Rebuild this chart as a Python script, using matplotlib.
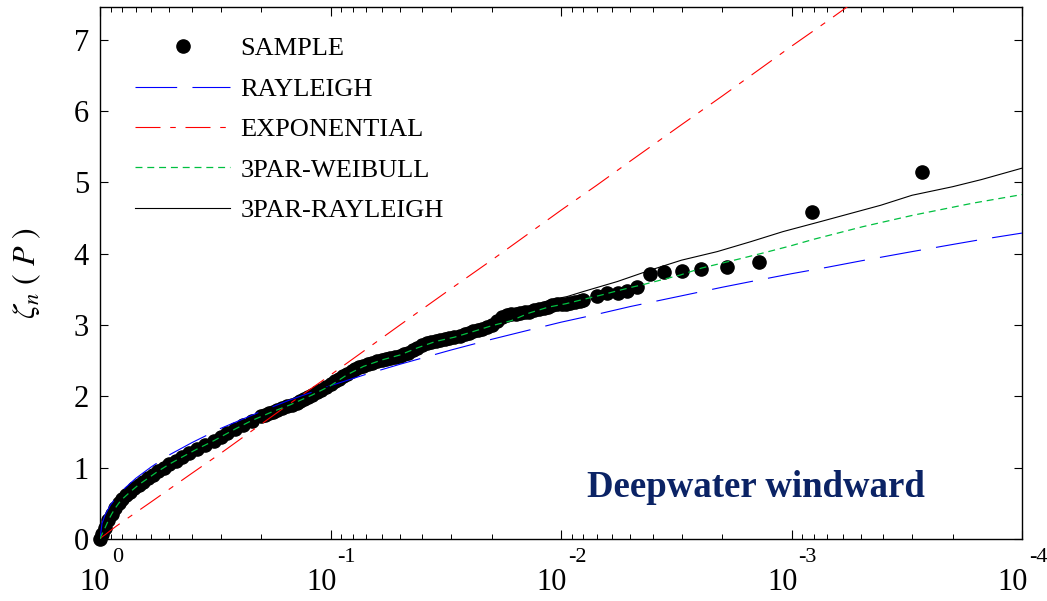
import matplotlib
matplotlib.use("Agg")
import matplotlib.pyplot as plt
from matplotlib.transforms import blended_transform_factory, ScaledTranslation

plt.rcParams['font.family'] = ['Liberation Serif', 'DejaVu Serif']
plt.rcParams['mathtext.fontset'] = 'stix'
plt.rcParams['lines.scale_dashes'] = False

# ---------------- data ----------------
sample_P = [1.0, 0.98, 0.95, 0.92, 0.89, 0.86, 0.83, 0.80, 0.77, 0.74,
            0.71, 0.68, 0.65, 0.62, 0.59, 0.56, 0.53, 0.50, 0.47, 0.44,
            0.41, 0.38, 0.35, 0.32, 0.30, 0.28, 0.26, 0.24, 0.22, 0.20,
            0.192, 0.185, 0.177, 0.17, 0.162, 0.155, 0.147, 0.14, 0.135, 0.13,
            0.125, 0.12, 0.115, 0.11, 0.105, 0.10, 0.096, 0.092, 0.088, 0.085,
            0.081, 0.078, 0.075, 0.072, 0.069, 0.066, 0.063, 0.060, 0.0575, 0.055,
            0.0525, 0.050, 0.048, 0.046, 0.044, 0.042, 0.040, 0.038, 0.0365, 0.035,
            0.0335, 0.032, 0.0305, 0.029, 0.0275, 0.026, 0.025, 0.024, 0.023, 0.022,
            0.021, 0.020, 0.019, 0.018, 0.0172, 0.0165, 0.0157, 0.015, 0.0143, 0.0137,
            0.0131, 0.0125, 0.0119, 0.0114, 0.0109, 0.0104, 0.0099, 0.0095, 0.0091, 0.0087,
            0.0083, 0.0080, 0.0070, 0.0063, 0.00568, 0.00519, 0.00470, 0.00411, 0.00356, 0.00299,
            0.00248, 0.00191, 0.00138, 0.000812, 0.000272]
sample_val = [0.00, 0.07, 0.16, 0.26, 0.35, 0.43, 0.50, 0.56, 0.61, 0.66,
              0.71, 0.76, 0.80, 0.85, 0.90, 0.95, 1.00, 1.05, 1.10, 1.15,
              1.20, 1.26, 1.32, 1.38, 1.43, 1.48, 1.54, 1.60, 1.66, 1.72,
              1.74, 1.76, 1.785, 1.81, 1.835, 1.86, 1.885, 1.91, 1.94, 1.97,
              1.995, 2.02, 2.055, 2.09, 2.13, 2.17, 2.21, 2.25, 2.285, 2.32,
              2.35, 2.38, 2.405, 2.43, 2.45, 2.47, 2.49, 2.51, 2.525, 2.54,
              2.555, 2.57, 2.59, 2.61, 2.645, 2.68, 2.715, 2.75, 2.765, 2.78,
              2.795, 2.81, 2.82, 2.83, 2.85, 2.87, 2.89, 2.91, 2.93, 2.95,
              2.975, 3.00, 3.06, 3.12, 3.135, 3.15, 3.16, 3.17, 3.18, 3.19,
              3.205, 3.22, 3.24, 3.26, 3.275, 3.29, 3.295, 3.30, 3.31, 3.32,
              3.335, 3.35, 3.41, 3.45, 3.45, 3.48, 3.54, 3.71, 3.75, 3.76,
              3.78, 3.81, 3.88, 4.58, 5.14]

model_P = [1.0, 0.98, 0.95, 0.9, 0.85, 0.8, 0.7, 0.6, 0.5, 0.4, 0.3, 0.2, 0.15, 0.1,
           0.07, 0.05, 0.03, 0.02, 0.015, 0.01, 0.007, 0.005, 0.003, 0.002, 0.0015,
           0.001, 7e-4, 5e-4, 3e-4, 2e-4, 1.5e-4, 1e-4]
rayleigh_val = [0.00, 0.22, 0.34, 0.48, 0.58, 0.68, 0.85, 1.01, 1.18, 1.35, 1.55, 1.79,
                1.95, 2.15, 2.31, 2.45, 2.65, 2.80, 2.90, 3.04, 3.15, 3.26, 3.41,
                3.53, 3.61, 3.72, 3.81, 3.90, 4.03, 4.13, 4.20, 4.29]
exponential_val = [0.00, 0.03, 0.06, 0.12, 0.18, 0.24, 0.37, 0.52, 0.70, 0.92, 1.20,
                   1.61, 1.90, 2.30, 2.66, 3.00, 3.51, 3.91, 4.20, 4.61, 4.96, 5.30,
                   5.81, 6.21, 6.50, 6.91, 7.26, 7.60, 8.11, 8.52, 8.80, 9.21]

weibull3_P = [1.0, 0.98, 0.95, 0.92, 0.89, 0.86, 0.83, 0.80, 0.74, 0.68, 0.62, 0.56,
              0.50, 0.44, 0.38, 0.32, 0.26, 0.22, 0.18, 0.15, 0.12, 0.10, 0.085, 0.072,
              0.060, 0.050, 0.042, 0.035, 0.029, 0.024, 0.020, 0.0165, 0.0137, 0.0114,
              0.0095, 0.0080, 0.0067, 0.0057, 0.0048, 0.00449, 0.00305, 0.00245,
              0.00167, 0.00133, 0.00101, 8.07e-4, 4.9e-4, 2.97e-4, 1.63e-4, 1e-4]
weibull3_val = [0.00, 0.07, 0.16, 0.26, 0.35, 0.43, 0.50, 0.56, 0.66, 0.76, 0.85, 0.95,
                1.05, 1.15, 1.26, 1.38, 1.54, 1.66, 1.78, 1.88, 2.02, 2.15, 2.30, 2.42,
                2.51, 2.58, 2.68, 2.77, 2.83, 2.91, 2.99, 3.06, 3.17, 3.25,
                3.30, 3.36, 3.42, 3.48, 3.54, 3.56, 3.70, 3.80,
                3.93, 4.01, 4.11, 4.20, 4.38, 4.54, 4.71, 4.83]

rayleigh3_P = [1.0, 0.98, 0.95, 0.92, 0.89, 0.86, 0.83, 0.80, 0.74, 0.68, 0.62, 0.56,
               0.50, 0.44, 0.38, 0.32, 0.26, 0.22, 0.18, 0.15, 0.12, 0.10, 0.085, 0.072,
               0.060, 0.050, 0.042, 0.035, 0.029, 0.024, 0.020, 0.0165, 0.0137, 0.0112,
               0.0094, 0.0080, 0.0057, 0.0041, 0.0030, 0.0021, 0.0015, 0.00109,
               7.5e-4, 4.1e-4, 3.0e-4, 2.0e-4, 1.5e-4, 1e-4]
rayleigh3_val = [0.00, 0.07, 0.16, 0.26, 0.35, 0.43, 0.50, 0.56, 0.66, 0.76, 0.85, 0.95,
                 1.05, 1.15, 1.26, 1.38, 1.54, 1.66, 1.78, 1.88, 2.02, 2.15, 2.30, 2.42,
                 2.51, 2.58, 2.68, 2.77, 2.83, 2.91, 3.00, 3.10, 3.22, 3.35,
                 3.40, 3.47, 3.61, 3.77, 3.91, 4.03, 4.17, 4.31,
                 4.45, 4.68, 4.82, 4.94, 5.04, 5.20]

labels = ['SAMPLE', 'RAYLEIGH', 'EXPONENTIAL', '3PAR-WEIBULL', '3PAR-RAYLEIGH']
decades = [1.0, 1e-1, 1e-2, 1e-3, 1e-4]
decade_exp = ['0', '-1', '-2', '-3', '-4']
y_ticks = [0, 1, 2, 3, 4, 5, 6, 7]
annotation = 'Deepwater windward'

# ---------------- figure ----------------
fig = plt.figure(figsize=(10.47, 6.01), dpi=100)
ax = fig.add_axes([100 / 1047, 1 - 539 / 601, 922 / 1047, 532 / 601])

ax.plot(sample_P, sample_val, 'o', color='black', ms=9.5, mec='black',
        linestyle='none', clip_on=False, zorder=2, label=labels[0])
ax.plot(model_P, rayleigh_val, color='#0000ff', lw=0.8,
        linestyle=(0, (30, 11)), zorder=3, label=labels[1])
ax.plot(model_P, exponential_val, color='#ff0000', lw=0.8,
        linestyle=(0, (18, 7, 4, 7)), zorder=3, label=labels[2])
ax.plot(weibull3_P, weibull3_val, color='#00c040', lw=0.9,
        linestyle=(0, (5, 3.5)), zorder=4, label=labels[3])
ax.plot(rayleigh3_P, rayleigh3_val, color='black', lw=0.8,
        linestyle='-', zorder=3, label=labels[4])

ax.set_xscale('log')
ax.set_xlim(1.0, 1e-4)
ax.set_ylim(0, 7.46)
ax.set_yticks(y_ticks)
ax.set_yticklabels([str(t) for t in y_ticks])

for s in ax.spines.values():
    s.set_linewidth(1.0)

ax.tick_params(axis='both', which='both', direction='in', top=True, right=True)
ax.tick_params(axis='y', which='major', length=6, width=0.8, labelsize=22, pad=8)
ax.tick_params(axis='x', which='major', length=6.5, width=0.8)
ax.tick_params(axis='x', which='minor', length=3.5, width=0.7)
ax.tick_params(axis='x', labelbottom=False)

# MATLAB-style decade labels
base_tr = blended_transform_factory(ax.transData, ax.transAxes)
for d, e in zip(decades, decade_exp):
    if e == '0':
        dx_b, dx_e = 10, 12
    else:
        dx_b, dx_e = 6, 7
    tb = base_tr + ScaledTranslation(dx_b / 100, -44 / 100, fig.dpi_scale_trans)
    te = base_tr + ScaledTranslation(dx_e / 100, -18.5 / 100, fig.dpi_scale_trans)
    ax.text(d, 0, '10', transform=tb, ha='right', va='center', fontsize=22,
            clip_on=False)
    ax.text(d, 0, e, transform=te, ha='left', va='center', fontsize=16,
            clip_on=False)

ax.set_ylabel(r'$\zeta_n\ (\ P\ )$', fontsize=23)
ax.yaxis.set_label_coords(-0.062, 0.5)

ax.text((587 - 100) / 922, (539 - 497) / 532, annotation, transform=ax.transAxes,
        fontsize=26.5, fontweight='bold', color='#0b2365', ha='left', va='baseline')

leg = ax.legend(loc='upper left', bbox_to_anchor=((135 - 100) / 922, (539 - 37) / 532),
                frameon=False, fontsize=19, handlelength=3.6, handletextpad=0.4,
                labelspacing=0.64, borderpad=0, borderaxespad=0, markerscale=1.0)

fig.savefig('out.png', dpi=100)
